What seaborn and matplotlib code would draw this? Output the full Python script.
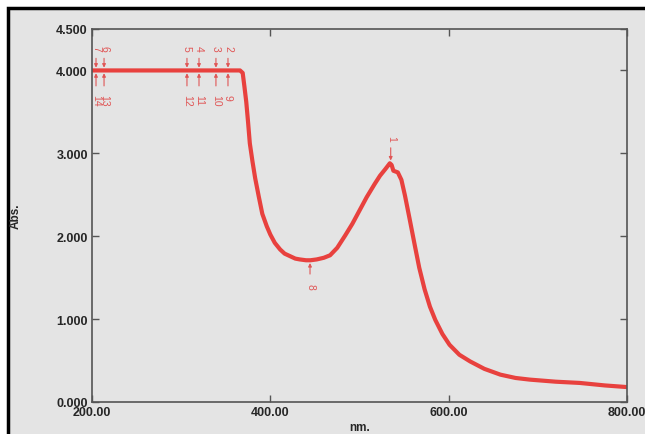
import numpy as np
import pandas as pd
import seaborn as sns
import matplotlib.pyplot as plt
from matplotlib.patches import Rectangle

# spectrum (nm, Abs.)
wavelength = [200, 230, 260, 290, 320, 350, 360, 366, 369, 371, 373, 375, 377, 380, 383, 387,
              391, 396, 400, 405, 411, 416, 422, 428, 433, 440, 445, 452, 460, 467, 475,
              484, 492, 500, 508, 517, 523, 529, 534, 536, 538, 543, 547, 551, 556, 562,
              567, 573, 579, 585, 593, 601, 612, 624, 640, 658, 675, 691, 720, 747, 775, 800]
absorbance = [4.00, 4.00, 4.00, 4.00, 4.00, 4.00, 4.00, 4.00, 3.97, 3.80, 3.62, 3.38, 3.12, 2.90, 2.70, 2.48,
              2.27, 2.12, 2.02, 1.92, 1.84, 1.79, 1.76, 1.73, 1.72, 1.71, 1.71, 1.72, 1.74, 1.77, 1.86,
              2.01, 2.15, 2.31, 2.47, 2.63, 2.73, 2.81, 2.88, 2.86, 2.79, 2.77, 2.68, 2.49, 2.22, 1.89,
              1.62, 1.36, 1.15, 0.99, 0.82, 0.69, 0.57, 0.49, 0.40, 0.33, 0.29, 0.27, 0.245, 0.23, 0.20, 0.18]

# peak picks on the saturated plateau
top_pos = [204.5, 213.5, 306.5, 320, 339, 352.5]
top_lab = ["7", "6", "5", "4", "3", "2"]
bot_lab = ["14", "13", "12", "11", "10", "9"]
peak_pos, peak_val, peak_lab = 535, 2.88, "1"
valley_pos, valley_val, valley_lab = 444.5, 1.71, "8"

red = "#e8413e"
lab_red = "#e05656"
grey = "#e4e4e4"

sns.set_style("ticks")
plt.rcParams["font.family"] = ["Liberation Sans", "DejaVu Sans"]

fig = plt.figure(figsize=(6.45, 4.35), dpi=100, facecolor="white")
fig.patches.append(Rectangle((8 / 645, -0.1), 1.2, 1 - 9 / 435 + 0.1, transform=fig.transFigure,
                             facecolor=grey, edgecolor="black", linewidth=2.5, zorder=-1))
ax = fig.add_axes([92 / 645, 1 - 403 / 435, 535 / 645, 373 / 435])
ax.set_facecolor(grey)

df = pd.DataFrame({"nm": wavelength, "abs": absorbance})
sns.lineplot(data=df, x="nm", y="abs", color=red, linewidth=3.0, ax=ax)

ax.set_xlim(200, 800)
ax.set_ylim(0, 4.5)
ax.set_xticks([200, 400, 600, 800])
ax.set_xticklabels([f"{v:.2f}" for v in [200, 400, 600, 800]])
ax.set_yticks([0, 1, 2, 3, 4, 4.5])
ax.set_yticklabels([f"{v:.3f}" for v in [0, 1, 2, 3, 4, 4.5]])
ax.tick_params(direction="in", length=5, width=1, color="#555555", top=True, right=True,
               labelsize=9, pad=3)
for t in ax.get_xticklabels() + ax.get_yticklabels():
    t.set_fontweight("bold")
for s in ax.spines.values():
    s.set_color("#555555")
    s.set_linewidth(1.2)
ax.set_xlabel("nm.", fontsize=8.5, fontweight="bold", labelpad=2)
ax.set_ylabel("Abs.", fontsize=8.5, fontweight="bold", labelpad=25)

arrow = dict(arrowstyle="-|>", color=lab_red, lw=0.8, mutation_scale=5)
for x, tl, bl in zip(top_pos, top_lab, bot_lab):
    ax.annotate("", xy=(x, 4.0), xytext=(x, 4.18), arrowprops=arrow)
    ax.annotate("", xy=(x, 4.0), xytext=(x, 3.78), arrowprops=arrow)
    ax.text(x, 4.24, tl, rotation=-90, color=lab_red, fontsize=7.5, ha="center", va="bottom")
    ax.text(x, 3.72, bl, rotation=-90, color=lab_red, fontsize=7.5, ha="center", va="top")

ax.annotate("", xy=(peak_pos, peak_val), xytext=(peak_pos, peak_val + 0.22), arrowprops=arrow)
ax.text(peak_pos, peak_val + 0.27, peak_lab, rotation=-90, color=lab_red, fontsize=7.5,
        ha="center", va="bottom")
ax.annotate("", xy=(valley_pos, valley_val), xytext=(valley_pos, valley_val - 0.2), arrowprops=arrow)
ax.text(valley_pos, valley_val - 0.27, valley_lab, rotation=-90, color=lab_red, fontsize=7.5,
        ha="center", va="top")

fig.savefig("out.png", dpi=100, facecolor="white")
